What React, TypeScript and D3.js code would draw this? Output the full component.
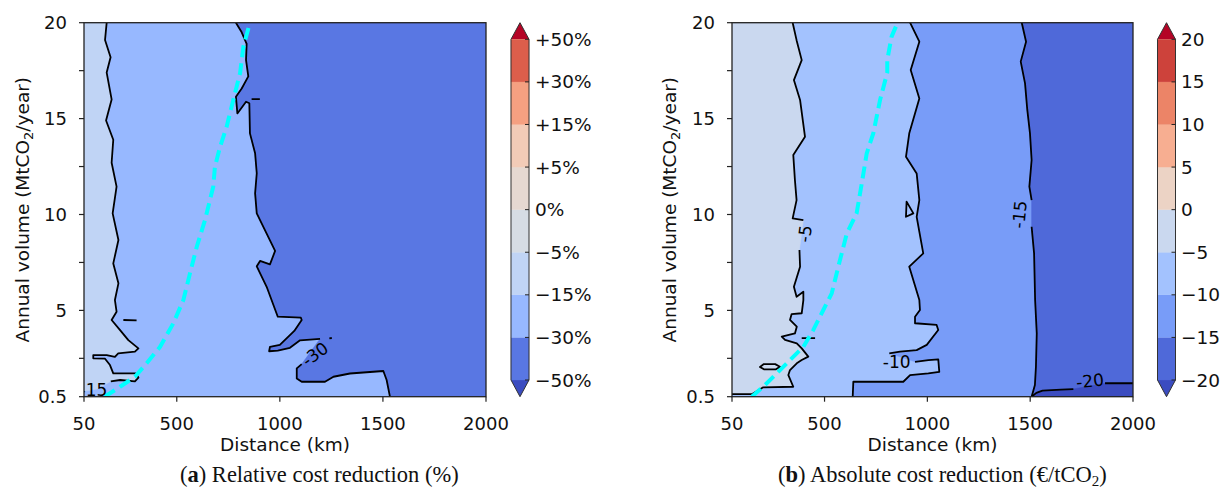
import React from 'react';
import * as d3 from 'd3';

type P = [number, number];

// ---------- axes / levels ----------
const xTickValues = [50, 500, 1000, 1500, 2000];
const yTickValues = [0.5, 5, 10, 15, 20];
const yMinorTickValues = [2.5, 7.5, 12.5, 17.5];
const xDomain: P = [50, 2000];
const yDomain: P = [0.5, 20];

const relLevels = [-50, -30, -15, -5, 0, 5, 15, 30, 50];
const relLevelLabels = ['\u221250%', '\u221230%', '\u221215%', '\u22125%', '0%', '+5%', '+15%', '+30%', '+50%'];
const absLevels = [-20, -15, -10, -5, 0, 5, 10, 15, 20];
const absLevelLabels = ['\u221220', '\u221215', '\u221210', '\u22125', '0', '5', '10', '15', '20'];

// ---------- panel (a): relative cost reduction, contour boundaries [distance km, volume Mt/yr] ----------
const relC15: P[] = [
  [160, 20], [152, 19.1], [179, 18.2], [160, 17.4], [184, 16.0], [157, 14.9], [192, 13.9], [184, 12.7],
  [208, 11.45], [189, 10.06], [217, 8.67], [192, 7.45], [217, 6.41], [200, 5.54], [208, 4.93], [184, 4.5],
  [225, 3.97], [265, 3.45], [314, 3.02], [297, 2.85], [216, 2.76], [200, 2.58], [160, 2.67], [95, 2.67],
  [95, 2.5], [152, 2.48], [176, 2.15], [192, 1.72], [300, 1.72], [314, 1.5], [297, 1.3], [225, 1.37], [180, 1.3],
];
const relC15Hidden: P[] = [[115, 0.9], [50, 0.78]];
const relC30Upper: P[] = [
  [787, 20], [815, 19.5], [839, 18.9], [836, 18.05], [847, 17.2], [815, 16.57], [787, 16.14], [794, 15.27],
  [836, 15.88], [852, 15.8], [855, 14.23], [880, 13.19], [888, 12.15], [880, 11.1], [888, 10.06], [936, 9.0],
  [977, 8.1], [952, 7.4], [904, 7.58], [888, 7.3], [936, 6.23], [990, 4.67], [1102, 4.62], [1106, 4.5],
  [1070, 3.93], [1000, 3.2], [952, 3.1], [948, 2.87], [990, 2.9], [1049, 3.05], [1098, 3.44], [1195, 3.52],
];
const relC30Lower: P[] = [
  [1106, 2.2], [1082, 1.98], [1082, 1.45], [1106, 1.28], [1219, 1.28], [1260, 1.54], [1340, 1.71],
  [1502, 1.84], [1518, 1.37], [1534, 0.5],
];
const relSmallBits: P[][] = [
  [[241, 4.5], [305, 4.48]],
  [[863, 16.02], [903, 16.02]],
  [[1240, 3.54], [1252, 3.56]],
];
const relBreakEven: P[] = [
  [150, 0.5], [225, 1.02], [297, 1.54], [354, 2.24], [419, 3.1], [483, 4.32], [532, 5.54], [564, 6.93],
  [597, 8.32], [637, 9.71], [677, 11.45], [685, 12.49], [710, 13.53], [742, 14.58], [774, 15.97],
  [807, 17.36], [823, 18.75], [855, 20],
];
const relLabels = [
  { at: [96, 0.86] as P, text: '-15', rot: 0 },
  { at: [1171, 2.72] as P, text: '-30', rot: -36 },
];

// ---------- panel (b): absolute cost reduction ----------
const absC5Upper: P[] = [
  [345, 20], [364, 19.09], [389, 18.05], [351, 17.01], [381, 15.97], [405, 14.05], [348, 13.1], [356, 11.79],
  [364, 10.75], [345, 9.8], [397, 9.71],
];
const absC5Lower: P[] = [
  [378, 8.15], [381, 7.28], [351, 6.23], [364, 5.71], [397, 5.97], [397, 5.54], [389, 4.85], [340, 4.81],
  [332, 4.5], [365, 4.15], [356, 3.8], [292, 3.63], [308, 3.46], [365, 3.28], [389, 3.02], [421, 2.59],
  [389, 2.41], [365, 2.24], [332, 1.89], [324, 1.63], [348, 1.02], [202, 0.99], [146, 0.63], [50, 0.63],
];
const absC10Upper: P[] = [
  [916, 20], [961, 19.01], [919, 17.53], [961, 16.05], [912, 14.23], [896, 13.01], [948, 12.14], [961, 10.75],
  [948, 9.88], [980, 7.97], [912, 7.28], [961, 5.54], [964, 5.02], [940, 4.67], [940, 4.33], [1045, 4.24],
  [1053, 3.98], [997, 3.2], [948, 2.93], [867, 2.85], [815, 2.76],
];
const absC10Lower: P[] = [
  [940, 2.32], [1005, 2.41], [1053, 2.45], [1058, 1.8], [1005, 1.72], [916, 1.63], [883, 1.28], [640, 1.28], [637, 0.5],
];
const absC15Upper: P[] = [
  [1459, 20], [1480, 19.01], [1454, 17.97], [1475, 16.84], [1486, 15.45], [1499, 14.23], [1507, 12.84],
  [1496, 11.45], [1507, 10.75],
];
const absC15Lower: P[] = [
  [1507, 9.36], [1519, 7.97], [1524, 5.54], [1532, 3.8], [1528, 2.06], [1523, 1.11], [1507, 0.5],
];
const absC20Upper: P[] = [[1507, 0.5], [1530, 0.7], [1560, 0.82], [1650, 0.87], [1710, 0.9]];
const absC20Lower: P[] = [[1864, 1.2], [2000, 1.2]];
const absSmallBits: P[][] = [[[389, 3.55], [454, 3.55]]];
const absIslands: P[][] = [
  [[186, 2.05], [205, 2.2], [260, 2.2], [283, 2.06], [262, 1.92], [205, 1.93]],
  [[899, 10.67], [932, 10.06], [896, 9.88]],
];
const absBreakEven: P[] = [
  [146, 0.5], [202, 1.02], [267, 1.71], [332, 2.41], [397, 3.1], [445, 3.97], [494, 5.02], [535, 5.89],
  [567, 7.28], [608, 9.0], [656, 10.06], [681, 11.62], [705, 13.18], [737, 14.23], [770, 15.97],
  [805, 17.4], [805, 18.05], [826, 19.27], [855, 20],
];
const absLabels = [
  { at: [405, 9.0] as P, text: '-5', rot: -82 },
  { at: [851, 2.32] as P, text: '-10', rot: 0 },
  { at: [1448, 10.0] as P, text: '-15', rot: -84 },
  { at: [1791, 1.32] as P, text: '-20', rot: -6 },
];

// ---------- styles ----------
const relColors = ['#3b4cc0', '#5977e3', '#97b8ff', '#c0d4f5', '#d6dce4', '#e5d8d1', '#f2cbb7', '#f5a081', '#dc5e4b', '#b40426'];
const absColors = ['#3b4cc0', '#4f69d9', '#789cf8', '#a3c2fe', '#cad8ef', '#ecd3c5', '#f7ae91', '#ec8467', '#cd423b', '#b40426'];
const FONT = "'DejaVu Sans', Verdana, sans-serif";
const SERIF = "'Liberation Serif', 'DejaVu Serif', serif";
const TOP = 22.7;
const BOTTOM = 396.7;

type Fill = { pts: P[]; band: number };
type Lbl = { at: P; text: string; rot: number };

function Panel(props: {
  id: string;
  left: number;
  right: number;
  baseBand: number;
  fills: Fill[];
  lines: P[][];
  closed: P[][];
  breakEven: P[];
  labels: Lbl[];
  colors: string[];
  levelLabels: string[];
  cbarX: number;
  cbarLabelX: number;
  yLabelX: number;
}) {
  const { id, left, right, colors } = props;
  const x = d3.scaleLinear().domain(xDomain).range([left, right]);
  const y = d3.scaleLinear().domain(yDomain).range([BOTTOM, TOP]);
  const line = d3.line<P>().x((d) => x(d[0])).y((d) => y(d[1]));
  const closedLine = d3.line<P>().x((d) => x(d[0])).y((d) => y(d[1])).curve(d3.curveLinearClosed);
  const cy = d3.scaleLinear().domain([0, props.levelLabels.length - 1]).range([380, 39.3]);
  const cw = 18;
  const cx0 = props.cbarX;
  const cx1 = cx0 + cw;
  const cmid = (cx0 + cx1) / 2;
  const n = props.levelLabels.length;
  const outline = `M${cx0},${cy(0)} L${cmid},${BOTTOM} L${cx1},${cy(0)} L${cx1},${cy(n - 1)} L${cmid},${TOP} L${cx0},${cy(n - 1)} Z`;
  return (
    <g>
      <defs>
        <clipPath id={id}>
          <rect x={left} y={TOP} width={right - left} height={BOTTOM - TOP} />
        </clipPath>
      </defs>
      <g clipPath={`url(#${id})`}>
        <rect x={left} y={TOP} width={right - left} height={BOTTOM - TOP} fill={colors[props.baseBand]} />
        {props.fills.map((f, i) => (
          <path key={i} d={closedLine(f.pts) || ''} fill={colors[f.band]} stroke={colors[f.band]} strokeWidth={0.5} />
        ))}
        {props.lines.map((l, i) => (
          <path key={i} d={line(l) || ''} fill="none" stroke="#000" strokeWidth={1.8} strokeLinejoin="round" />
        ))}
        {props.closed.map((l, i) => (
          <path key={i} d={closedLine(l) || ''} fill="none" stroke="#000" strokeWidth={1.8} strokeLinejoin="round" />
        ))}
        <path d={line(props.breakEven) || ''} fill="none" stroke="#00ffff" strokeWidth={4} strokeDasharray="12 6" />
        {props.labels.map((l, i) => (
          <text
            key={i}
            transform={`translate(${x(l.at[0])},${y(l.at[1])}) rotate(${l.rot})`}
            textAnchor="middle"
            dominantBaseline="central"
            fontFamily={FONT}
            fontSize={17}
            fill="#000"
          >
            {l.text}
          </text>
        ))}
      </g>
      <rect x={left} y={TOP} width={right - left} height={BOTTOM - TOP} fill="none" stroke="#222" strokeWidth={1.3} />
      {xTickValues.map((v) => (
        <g key={v}>
          <line x1={x(v)} x2={x(v)} y1={BOTTOM} y2={BOTTOM + 5} stroke="#222" strokeWidth={1.2} />
          <text x={x(v)} y={430} textAnchor="middle" fontFamily={FONT} fontSize={18} fill="#111">
            {v}
          </text>
        </g>
      ))}
      {yTickValues.concat(yMinorTickValues).map((v) => (
        <line key={v} x1={left - 5} x2={left} y1={y(v)} y2={y(v)} stroke="#222" strokeWidth={1.2} />
      ))}
      {yTickValues.map((v) => (
        <text key={v} x={left - 17} y={y(v)} textAnchor="end" dominantBaseline="central" fontFamily={FONT} fontSize={18} fill="#111">
          {v}
        </text>
      ))}
      <text x={(left + right) / 2} y={451} textAnchor="middle" fontFamily={FONT} fontSize={18.5} fill="#111">
        Distance (km)
      </text>
      <text transform={`translate(${props.yLabelX},${(TOP + BOTTOM) / 2}) rotate(-90)`} textAnchor="middle" fontFamily={FONT} fontSize={18.5} fill="#111">
        Annual volume (MtCO<tspan dy={4} fontSize={13}>2</tspan>
        <tspan dy={-4}>/year)</tspan>
      </text>
      {/* colorbar */}
      <polygon points={`${cx0},${cy(0)} ${cmid},${BOTTOM} ${cx1},${cy(0)}`} fill={colors[0]} />
      <polygon points={`${cx0},${cy(n - 1)} ${cmid},${TOP} ${cx1},${cy(n - 1)}`} fill={colors[n]} />
      {d3.range(1, n).map((i) => (
        <rect key={i} x={cx0} y={cy(i)} width={cw} height={cy(i - 1) - cy(i)} fill={colors[i]} stroke={colors[i]} strokeWidth={0.3} />
      ))}
      <path d={outline} fill="none" stroke="#333" strokeWidth={1} />
      {props.levelLabels.map((t, i) => (
        <g key={i}>
          <line x1={cx1 - 4} x2={cx1} y1={cy(i)} y2={cy(i)} stroke="#222" strokeWidth={1} />
          <text x={props.cbarLabelX} y={cy(i)} dominantBaseline="central" fontFamily={FONT} fontSize={18.5} fill="#111">
            {t}
          </text>
        </g>
      ))}
    </g>
  );
}

export default function App() {
  const relFills: Fill[] = [
    { pts: [[xDomain[0], yDomain[1]], ...relC15, ...relC15Hidden], band: 3 },
    { pts: [...relC30Upper, ...relC30Lower, [xDomain[1], yDomain[0]], [xDomain[1], yDomain[1]]], band: 1 },
  ];
  const absFills: Fill[] = [
    { pts: [[xDomain[0], yDomain[1]], ...absC5Upper, ...absC5Lower], band: 4 },
    { pts: [...absC10Upper, ...absC10Lower, [xDomain[1], yDomain[0]], [xDomain[1], yDomain[1]]], band: 2 },
    { pts: [...absC15Upper, ...absC15Lower, [xDomain[1], yDomain[0]], [xDomain[1], yDomain[1]]], band: 1 },
    { pts: [...absC20Upper, ...absC20Lower, [xDomain[1], yDomain[0]]], band: 0 },
  ];
  return (
    <div style={{ position: 'absolute', left: 0, top: 0 }}>
      <svg width={1227} height={495} viewBox="0 0 1227 495" style={{ display: 'block', background: '#fff' }}>
        <Panel
          id="clipA"
          left={84}
          right={486}
          baseBand={2}
          fills={relFills}
          lines={[relC15, relC30Upper, relC30Lower, ...relSmallBits]}
          closed={[]}
          breakEven={relBreakEven}
          labels={relLabels}
          colors={relColors}
          levelLabels={relLevelLabels}
          cbarX={511}
          cbarLabelX={535}
          yLabelX={29}
        />
        <Panel
          id="clipB"
          left={732}
          right={1133}
          baseBand={3}
          fills={absFills}
          lines={[absC5Upper, absC5Lower, absC10Upper, absC10Lower, absC15Upper, absC15Lower, absC20Upper, absC20Lower, ...absSmallBits]}
          closed={absIslands}
          breakEven={absBreakEven}
          labels={absLabels}
          colors={absColors}
          levelLabels={absLevelLabels}
          cbarX={1157.5}
          cbarLabelX={1181}
          yLabelX={676}
        />
        <text x={180} y={482} fontFamily={SERIF} fontSize={22.5} fill="#111">
          (<tspan fontWeight="bold">a</tspan>) Relative cost reduction (%)
        </text>
        <text x={778} y={482} fontFamily={SERIF} fontSize={22.5} fill="#111">
          (<tspan fontWeight="bold">b</tspan>) Absolute cost reduction (€/tCO<tspan dy={4} fontSize={15}>2</tspan>
          <tspan dy={-4}>)</tspan>
        </text>
      </svg>
    </div>
  );
}
